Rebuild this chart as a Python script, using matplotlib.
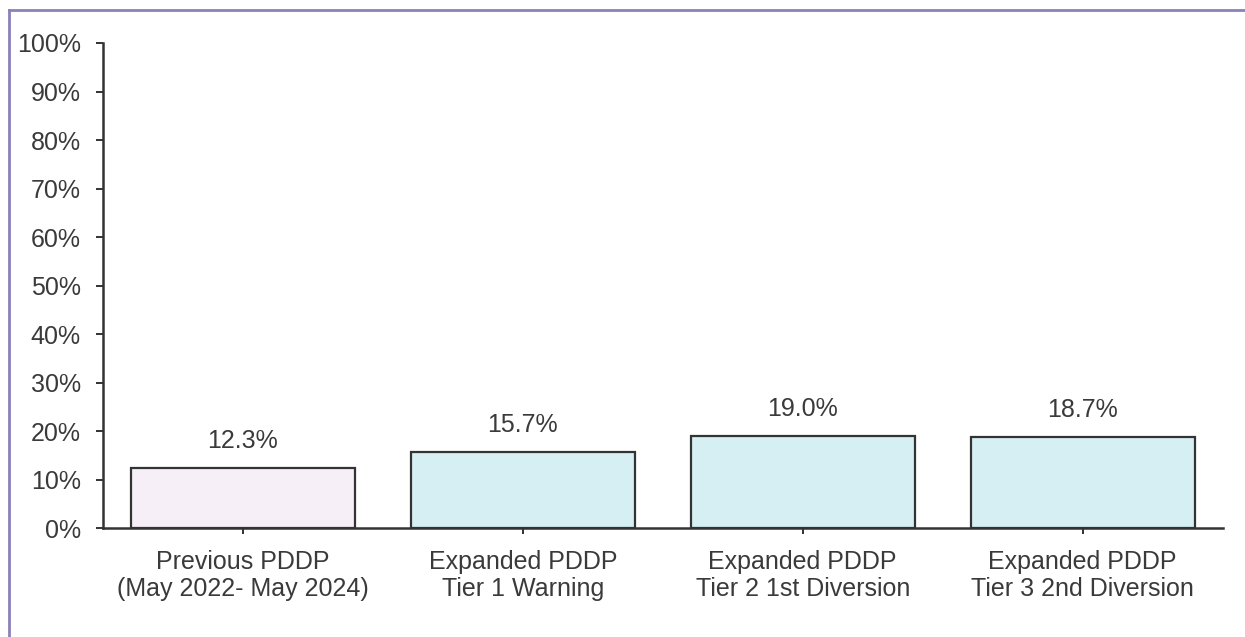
import matplotlib
matplotlib.use("Agg")
import matplotlib.pyplot as plt
from matplotlib.lines import Line2D

categories = [
    "Previous PDDP\n(May 2022- May 2024)",
    "Expanded PDDP\nTier 1 Warning",
    "Expanded PDDP\nTier 2 1st Diversion",
    "Expanded PDDP\nTier 3 2nd Diversion",
]
values = [12.3, 15.7, 19.0, 18.7]
value_labels = ["12.3%", "15.7%", "19.0%", "18.7%"]
bar_colors = ["#f7eff7", "#d6eff3", "#d6eff3", "#d6eff3"]
y_ticks = list(range(0, 101, 10))
y_tick_labels = [f"{t}%" for t in y_ticks]

plt.rcParams["font.family"] = ["Liberation Sans", "DejaVu Sans"]
text_color = "#3a3a3a"
fs = 18

fig = plt.figure(figsize=(12.45, 6.37), dpi=100)
ax = fig.add_axes([0.0827, 0.171, 0.8993, 0.7615])

x = list(range(len(categories)))
bars = ax.bar(x, values, width=0.8, color=bar_colors,
              edgecolor="#333333", linewidth=1.6, zorder=2)

for xi, v, lab in zip(x, values, value_labels):
    ax.annotate(lab, (xi, v), xytext=(0, 11), textcoords="offset points",
                ha="center", va="bottom", fontsize=fs, color=text_color)

ax.set_xlim(-0.5, len(categories) - 0.5)
ax.set_ylim(0, 100)
ax.set_yticks(y_ticks)
ax.set_yticklabels(y_tick_labels)
ax.set_xticks(x)
ax.set_xticklabels(categories, linespacing=1.12)

ax.tick_params(axis="y", direction="out", length=5, width=1.4, pad=11,
               labelsize=fs, colors="#333333", labelcolor=text_color)
ax.tick_params(axis="x", direction="out", length=4, width=1.4, pad=12,
               labelsize=fs, colors="#333333", labelcolor=text_color)

for side in ("top", "right"):
    ax.spines[side].set_visible(False)
for side in ("left", "bottom"):
    ax.spines[side].set_linewidth(1.8)
    ax.spines[side].set_color("#333333")

# Outer chart frame (left and top edges)
frame_color = "#8b80b8"
fig.add_artist(Line2D([9 / 1245, 9 / 1245], [0, 1 - 10 / 637],
                      transform=fig.transFigure, color=frame_color, lw=2))
fig.add_artist(Line2D([9 / 1245, 1], [1 - 10 / 637, 1 - 10 / 637],
                      transform=fig.transFigure, color=frame_color, lw=2))

fig.savefig("out.png", dpi=100, facecolor="white")
